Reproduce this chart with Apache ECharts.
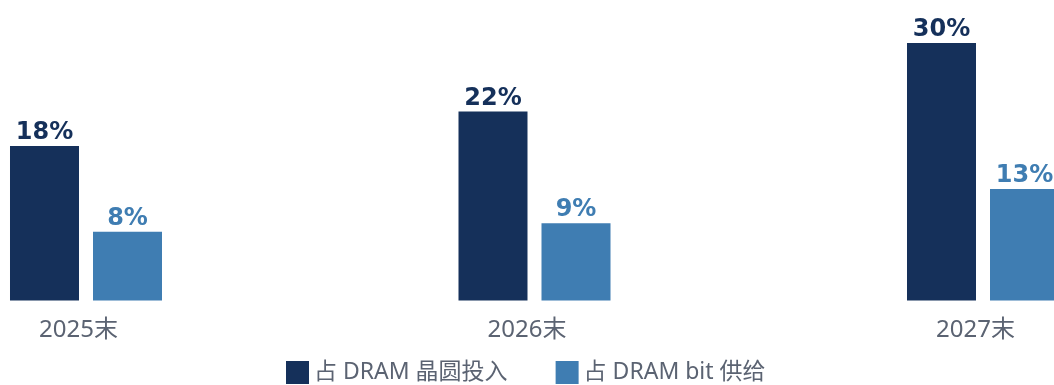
<!DOCTYPE html>
<html>
<head>
<meta charset="utf-8">
<script src="https://cdn.jsdelivr.net/npm/echarts@6/dist/echarts.min.js"></script>
<style>
html,body{margin:0;padding:0;background:#fff;}
#main{width:1054px;height:385px;}
</style>
</head>
<body>
<div id="main"></div>
<script>
const categories = ['2025末', '2026末', '2027末'];
const seriesNames = ['占 DRAM 晶圆投入', '占 DRAM bit 供给'];
const waferShare = [18, 22, 30];
const bitShare = [8, 9, 13];

const darkColor = '#15305a';
const lightColor = '#3f7db2';
const textGray = '#5b6372';
const textFont = '"Noto Sans", "Noto Sans CJK SC", sans-serif';

const chart = echarts.init(document.getElementById('main'), null, {renderer: 'canvas'});

function barSeries(name, data, color) {
  return {
    name: name,
    type: 'bar',
    data: data,
    barWidth: 69,
    barGap: '20.3%',
    clip: false,
    itemStyle: {color: color},
    label: {
      show: true,
      position: 'top',
      distance: 1,
      formatter: '{c}%',
      color: color,
      fontFamily: 'DejaVu Sans',
      fontWeight: 'bold',
      fontSize: 24
    }
  };
}

chart.setOption({
  animation: false,
  backgroundColor: '#ffffff',
  grid: {left: 86, right: 71, top: 0, bottom: 84.5, containLabel: false},
  legend: {
    data: seriesNames,
    left: 286,
    top: 361,
    padding: 0,
    itemWidth: 23,
    itemHeight: 23,
    itemGap: 48,
    icon: 'rect',
    textStyle: {
      color: textGray,
      fontSize: 23,
      fontFamily: textFont
    }
  },
  xAxis: {
    type: 'category',
    data: categories,
    boundaryGap: false,
    axisLine: {show: false},
    axisTick: {show: false},
    axisLabel: {
      color: textGray,
      fontSize: 24,
      fontFamily: textFont,
      margin: 18,
      padding: [0, 15, 0, 0]
    }
  },
  yAxis: {
    type: 'value',
    min: 0,
    max: 35,
    show: false,
    splitLine: {show: false}
  },
  series: [
    barSeries(seriesNames[0], waferShare, darkColor),
    barSeries(seriesNames[1], bitShare, lightColor)
  ]
});
</script>
</body>
</html>
